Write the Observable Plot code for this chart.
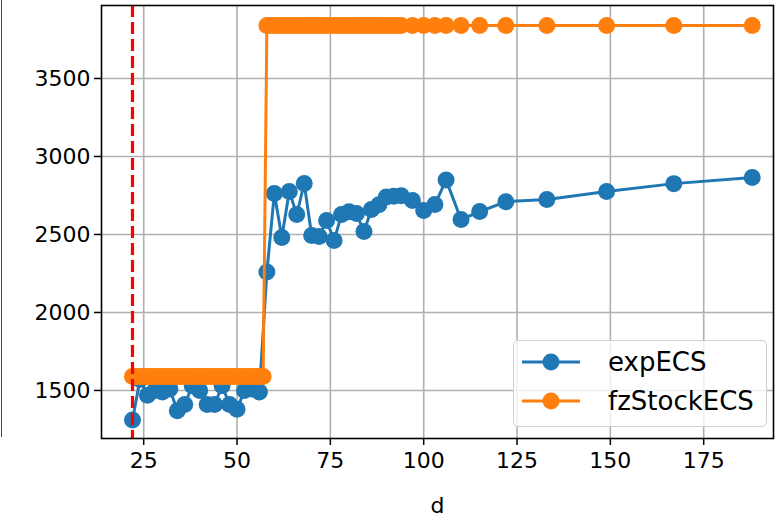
<!DOCTYPE html>
<html>
<head>
<meta charset="utf-8">
<script src="https://cdn.jsdelivr.net/npm/d3@7"></script>
<script src="https://cdn.jsdelivr.net/npm/@observablehq/plot@0.6"></script>
<style>
  html, body { margin: 0; padding: 0; background: white; }
  #wrap { position: relative; width: 778px; height: 518px; font-family: "DejaVu Sans", sans-serif; }
  #edge { position: absolute; left: 1px; top: 0; width: 1px; height: 437px; background: #444; }
  #legend { position: absolute; left: 513px; top: 340px; width: 254px; height: 87px;
    border: 1.5px solid #d0d0d0; border-radius: 5px; background: rgba(255,255,255,0.8); box-sizing: border-box; }
  .row { position: absolute; left: 8px; height: 30px; display: flex; align-items: center; }
  .row span { margin-left: 28px; font-size: 26px; color: #000; }
</style>
</head>
<body>
<div id="wrap"><div id="edge"></div></div>
<script>
const seriesNames = ["expECS", "fzStockECS"];
const colors = ["#1f77b4", "#ff7f0e"];
const xTicks = [25, 50, 75, 100, 125, 150, 175];
const yTicks = [1500, 2000, 2500, 3000, 3500];
const thresholdD = 22;

const expD = [22,24,26,28,30,32,34,36,38,40,42,44,46,48,50,52,54,56,
  58,60,62,64,66,68,70,72,74,76,78,80,82,84,86,88,90,92,94,
  97,100,103,106,110,115,122,133,149,167,188];
const expV = [1310,1570,1470,1500,1490,1510,1370,1410,1530,1500,1410,1410,1530,1410,1380,1500,1510,1490,
  2260,2763,2481,2775,2628,2827,2494,2487,2590,2461,2628,2645,2634,2519,2660,2690,2740,2745,2748,
  2718,2654,2692,2850,2596,2647,2710,2724,2776,2826,2865];

const fzD = [22,23,24,25,26,27,28,29,30,31,32,33,34,35,36,37,38,39,40,41,42,43,44,45,46,47,48,49,50,51,52,53,54,55,56,57,
  58,59,60,61,62,63,64,65,66,67,68,69,70,71,72,73,74,75,76,77,78,79,80,81,82,83,84,85,86,87,88,89,90,91,92,93,94,
  97,100,103,106,110,115,122,133,149,167,188];
const fzV = fzD.map(d => d <= 57 ? 1590 : 3840);

const exp = expD.map((d, i) => ({d, v: expV[i]}));
const fz = fzD.map((d, i) => ({d, v: fzV[i]}));

const chart = Plot.plot({
  width: 778, height: 518,
  marginLeft: 101, marginRight: 5, marginTop: 5, marginBottom: 80,
  style: {fontFamily: "DejaVu Sans", fontSize: "22px", color: "black", background: "white", overflow: "visible"},
  x: {domain: [13.7, 193.7]},
  y: {domain: [1192, 3968]},
  marks: [
    Plot.gridX(xTicks, {stroke: "#b0b0b0", strokeOpacity: 1, strokeWidth: 1.6}),
    Plot.gridY(yTicks, {stroke: "#b0b0b0", strokeOpacity: 1, strokeWidth: 1.6}),
    Plot.line(exp, {x: "d", y: "v", stroke: colors[0], strokeWidth: 3}),
    Plot.dot(exp, {x: "d", y: "v", r: 8.5, fill: colors[0]}),
    Plot.line(fz, {x: "d", y: "v", stroke: colors[1], strokeWidth: 3}),
    Plot.dot(fz, {x: "d", y: "v", r: 8.5, fill: colors[1]}),
    Plot.ruleX([thresholdD], {stroke: "#ff0000", strokeWidth: 3.2, strokeDasharray: "12,5"}),
    Plot.axisX(xTicks, {tickSize: 7, tickPadding: 7, stroke: "black", strokeWidth: 1.5, fontSize: 22,
      tickFormat: d => String(d),
      label: "d", labelAnchor: "center", labelArrow: "none", labelOffset: 74}),
    Plot.axisY(yTicks, {tickSize: 7, tickPadding: 4, stroke: "black", strokeWidth: 1.5, fontSize: 22,
      tickFormat: d => String(d), label: null}),
    Plot.frame({stroke: "black", strokeWidth: 1.6})
  ]
});
const wrap = document.getElementById("wrap");
wrap.insertBefore(chart, wrap.firstChild);
chart.style.position = "absolute"; chart.style.left = "0"; chart.style.top = "0";

const legend = document.createElement("div");
legend.id = "legend";
seriesNames.forEach((name, i) => {
  const row = document.createElement("div");
  row.className = "row";
  row.style.top = (i === 0 ? 6 : 45) + "px";
  row.innerHTML = `<svg width="58" height="30"><line x1="0" x2="58" y1="15" y2="15" stroke="${colors[i]}" stroke-width="3"/><circle cx="29" cy="15" r="8.5" fill="${colors[i]}"/></svg><span>${name}</span>`;
  legend.appendChild(row);
});
wrap.appendChild(legend);
</script>
</body>
</html>
